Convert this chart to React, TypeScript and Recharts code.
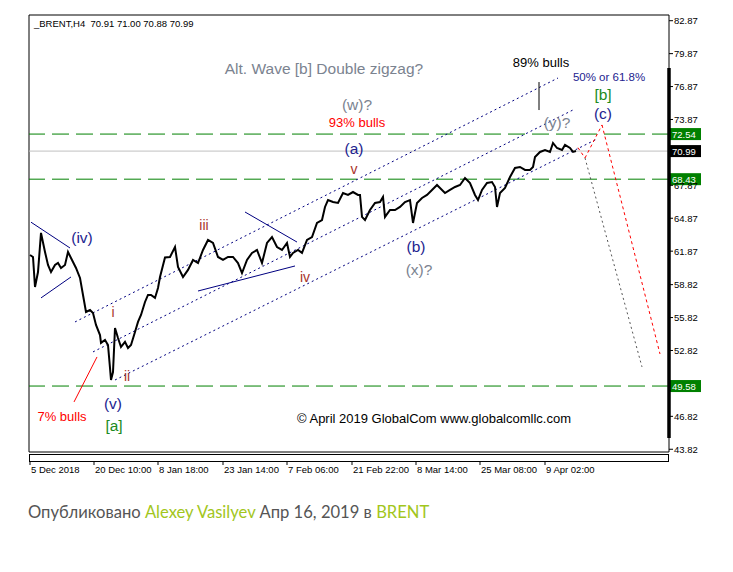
import {
  ComposedChart,
  Line,
  XAxis,
  YAxis,
  ReferenceLine,
  ReferenceDot,
  ReferenceArea,
} from "recharts";

const FONT = '"Liberation Sans", Arial, sans-serif';

// H4 bar number (from 5 Dec 2018) and the close
const bars = [
  1, 4, 6, 9, 12, 16, 19, 22, 26, 29, 32, 36, 39, 42, 47, 51, 54, 57, 61, 64,
  67, 71, 72, 76, 79, 81, 82, 84, 86, 89, 92, 96, 99, 102, 106, 109, 112, 116,
  119, 122, 126, 129, 131, 136, 141, 146, 149, 154, 159, 164, 169, 174, 179,
  184, 189, 194, 199, 204, 209, 213, 218, 223, 228, 233, 238, 243, 248, 253,
  258, 261, 264, 269, 273, 278, 283, 288, 293, 296, 299, 304, 309, 314, 319,
  324, 329, 331, 333, 336, 341, 346, 351, 354, 356, 361, 366, 371, 376, 381,
  384, 388, 393, 398, 403, 408, 411, 416, 421, 426, 431, 436, 441, 446, 449,
  453, 458, 463, 466, 468, 471, 476, 481, 486, 491, 496, 501, 504, 506, 511,
  516, 521, 524, 528, 533, 536, 541, 544, 547,
];
const closes = [
  61.52, 61.34, 58.61, 59.97, 63.53, 61.8, 60.61, 59.97, 60.61, 60.79, 60.34,
  60.61, 61.8, 61.25, 60.34, 59.43, 57.88, 56.33, 56.51, 56.24, 55.15, 54.23,
  53.51, 53.78, 53.32, 51.23, 50.13, 50.86, 54.87, 53.96, 53.14, 53.6, 53.05,
  53.32, 54.51, 55.42, 56.06, 57.24, 57.88, 57.88, 57.61, 58.52, 59.52, 61.3,
  61.34, 62.25, 60.43, 59.52, 60.16, 61.07, 60.79, 61.98, 62.89, 62.62, 61.34,
  61.07, 61.34, 61.34, 60.79, 59.88, 61.07, 61.71, 61.98, 60.79, 62.62, 63.16,
  62.25, 61.98, 62.62, 61.34, 61.71, 61.98, 61.71, 62.89, 63.16, 64.44, 64.71,
  65.9, 66.53, 66.35, 66.26, 67.17, 66.99, 67.26, 66.99, 66.99, 64.99, 64.71,
  65.62, 66.26, 66.35, 66.81, 64.99, 65.62, 65.62, 65.9, 66.35, 66.53, 64.44,
  66.26, 66.72, 66.99, 67.45, 67.9, 67.63, 67.17, 67.45, 67.72, 67.9, 68.54,
  68.08, 66.99, 66.53, 67.45, 68.08, 68.17, 67.72, 65.9, 67.17, 67.63, 68.63,
  69.45, 69.54, 69.27, 69.27, 69.54, 70.45, 70.91, 71.09, 70.91, 71.73, 71.27,
  71.09, 71.55, 71.27, 70.91, 70.99,
];

const priceTicks = [
  82.87, 79.87, 76.87, 73.87, 67.87, 64.87, 61.87, 58.82, 55.82, 52.82, 46.82,
  43.82,
];
const dateBars = [1, 65, 129, 194, 258, 323, 387, 451, 516];
const dateLabels = [
  "5 Dec 2018",
  "20 Dec 10:00",
  "8 Jan 18:00",
  "23 Jan 14:00",
  "7 Feb 06:00",
  "21 Feb 22:00",
  "8 Mar 14:00",
  "25 Mar 08:00",
  "9 Apr 02:00",
];

const greenLevels = [72.54, 68.43, 49.58];
const lastPrice = 70.99;

// wave channels and triangles [bar, price]
const channels = [
  [[46, 55.42], [529, 77.65]],
  [[64, 52.69], [546, 74.83]],
  [[86, 50.13], [568, 72.09]],
];
const triangles = [
  [[2, 64.51], [41, 62.16]],
  [[12, 57.61], [42, 59.52]],
  [[216, 65.44], [268, 62.7]],
  [[169, 58.24], [266, 60.52]],
];
const redPath = [[549, 71.3], [556, 70.36], [573, 73.37], [631, 52.5]];
const grayPath = [[556, 70.36], [613, 51.32]];
const pointer7 = [[45, 48.13], [68, 52.23]];
const pointer89 = [[510, 77.28], [510, 74.73]];

const NAVY = "#23238f";
const WAVE = "#a8322a";
const GREY = "#7b8390";
const GREEN = "#208a20";

const notes = [
  { t: "Alt. Wave [b] Double zigzag?", x: 295, y: 78.56, c: GREY, s: 15.5 },
  { t: "(w)?", x: 328, y: 75.19, c: GREY, s: 15.5 },
  { t: "93% bulls", x: 328, y: 73.64, c: "#ff0000", s: 13 },
  { t: "(a)", x: 325, y: 71.27, c: NAVY, s: 15.5 },
  { t: "v", x: 325, y: 69.36, c: WAVE, s: 14 },
  { t: "iii", x: 175, y: 64.26, c: WAVE, s: 14 },
  { t: "iv", x: 276, y: 59.52, c: WAVE, s: 14 },
  { t: "i", x: 84, y: 56.33, c: WAVE, s: 14 },
  { t: "ii", x: 98, y: 50.54, c: WAVE, s: 14 },
  { t: "(iv)", x: 53, y: 63.16, c: NAVY, s: 15.5 },
  { t: "(v)", x: 84, y: 47.95, c: NAVY, s: 15.5 },
  { t: "[a]", x: 85, y: 46.03, c: GREEN, s: 15.5 },
  { t: "7% bulls", x: 33, y: 46.76, c: "#ff0000", s: 13 },
  { t: "(b)", x: 387, y: 62.25, c: NAVY, s: 15.5 },
  { t: "(x)?", x: 390, y: 60.16, c: GREY, s: 15.5 },
  { t: "(y)?", x: 528, y: 73.55, c: GREY, s: 15.5 },
  { t: "89% bulls", x: 512, y: 79.02, c: "#000", s: 13 },
  { t: "50% or 61.8%", x: 580, y: 77.74, c: NAVY, s: 11.5 },
  { t: "[b]", x: 574, y: 76.19, c: GREEN, s: 15.5 },
  { t: "(c)", x: 574, y: 74.46, c: NAVY, s: 15.5 },
  { t: "© April 2019 GlobalCom www.globalcomllc.com", x: 405, y: 46.58, c: "#000", s: 13 },
];

const priceData = bars.map((bar, i) => ({ bar, close: closes[i] }));

const seg = (p: number[][]) =>
  p.slice(1).map((q, i) => [
    { x: p[i][0], y: p[i][1] },
    { x: q[0], y: q[1] },
  ]);

const DateTick = (props: any) => {
  const { x, y, payload } = props;
  const label = dateLabels[dateBars.indexOf(payload.value)];
  return (
    <g>
      <line x1={x} x2={x} y1={y + 10} y2={y + 13} stroke="#000" />
      <text x={x + 1} y={y + 17} dominantBaseline="central" fontSize={9.5} fontFamily={FONT} fill="#000">
        {label}
      </text>
    </g>
  );
};

const PriceTag = (props: any) => {
  const { viewBox, bg, txt } = props;
  const x = viewBox.x + viewBox.width;
  const y = viewBox.y;
  return (
    <g>
      <rect x={x} y={y - 6} width={32} height={12} fill={bg} />
      <text x={x + 3} y={y} dominantBaseline="central" fontSize={9.5} fontFamily={FONT} fill="#fff">
        {txt}
      </text>
    </g>
  );
};

const NoteLabel = (props: any) => {
  const { viewBox, txt, color, size } = props;
  return (
    <text
      x={viewBox.x + viewBox.width / 2}
      y={viewBox.y + viewBox.height / 2}
      textAnchor="middle"
      dominantBaseline="central"
      fontSize={size}
      fontFamily={FONT}
      fill={color}
    >
      {txt}
    </text>
  );
};

export default function App() {
  return (
    <div style={{ position: "absolute", left: 0, top: 0, width: 733, height: 572, background: "#fff" }}>
      <ComposedChart
        width={733}
        height={480}
        data={priceData}
        margin={{ top: 15, right: 0, bottom: 0, left: 29 }}
      >
        <XAxis
          type="number"
          dataKey="bar"
          domain={[0, 640]}
          ticks={dateBars}
          interval={0}
          height={28}
          tickSize={0}
          tickMargin={0}
          axisLine={false}
          tickLine={false}
          tick={<DateTick />}
          allowDataOverflow
        />
        <YAxis
          orientation="right"
          domain={[43.57, 83.39]}
          ticks={priceTicks}
          interval={0}
          width={64}
          tickSize={4}
          tickMargin={1}
          axisLine={false}
          tickLine={{ stroke: "#000" }}
          tick={{ fontSize: 9.5, fill: "#000", fontFamily: FONT }}
          tickFormatter={(v: number) => v.toFixed(2)}
          allowDataOverflow
        />
        <ReferenceArea x1={0} x2={640} y1={43.57} y2={83.39} fill="none" stroke="#000" />
        <ReferenceLine y={lastPrice} stroke="#c0c0c0" label={<PriceTag bg="#000" txt={lastPrice.toFixed(2)} />} />
        {greenLevels.map((v) => (
          <ReferenceLine
            key={v}
            y={v}
            stroke="#008000"
            strokeDasharray="17 7"
            label={<PriceTag bg="#008000" txt={v.toFixed(2)} />}
          />
        ))}
        {channels.flatMap(seg).map((s, i) => (
          <ReferenceLine key={"c" + i} segment={s} stroke="#000080" strokeDasharray="2 3" />
        ))}
        {triangles.flatMap(seg).map((s, i) => (
          <ReferenceLine key={"t" + i} segment={s} stroke="#000080" />
        ))}
        {seg(redPath).map((s, i) => (
          <ReferenceLine key={"r" + i} segment={s} stroke="#ff0000" strokeDasharray="3 3" />
        ))}
        {seg(grayPath).map((s, i) => (
          <ReferenceLine key={"g" + i} segment={s} stroke="#555" strokeDasharray="2 3" />
        ))}
        {seg(pointer7).map((s, i) => (
          <ReferenceLine key={"p7" + i} segment={s} stroke="#ff0000" />
        ))}
        {seg(pointer89).map((s, i) => (
          <ReferenceLine key={"p89" + i} segment={s} stroke="#000" />
        ))}
        <ReferenceLine
          segment={[
            { x: 640, y: 78.56 },
            { x: 640, y: 44.85 },
          ]}
          stroke="#000"
          strokeWidth={3.5}
        />
        <Line
          dataKey="close"
          stroke="#000"
          strokeWidth={2}
          dot={false}
          isAnimationActive={false}
          strokeLinejoin="miter"
        />
        {notes.map((n, i) => (
          <ReferenceDot
            key={"n" + i}
            x={n.x}
            y={n.y}
            r={1}
            fill="none"
            stroke="none"
            label={<NoteLabel txt={n.t} color={n.c} size={n.s} />}
          />
        ))}
      </ComposedChart>
      <div
        style={{
          position: "absolute",
          left: 29,
          top: 454,
          width: 640,
          height: 8,
          border: "1px solid #000",
          boxSizing: "border-box",
        }}
      />
      <div
        style={{
          position: "absolute",
          left: 34,
          top: 19,
          fontSize: 9.5,
          lineHeight: "10px",
          fontFamily: FONT,
          whiteSpace: "pre",
          color: "#000",
        }}
      >
        {"_BRENT,H4  70.91 71.00 70.88 70.99"}
      </div>
      <div
        style={{
          position: "absolute",
          left: 28,
          top: 502,
          fontSize: 16.6,
          lineHeight: "20px",
          fontFamily: "Lato, sans-serif",
          color: "#555",
          whiteSpace: "pre",
        }}
      >
        Опубликовано <span style={{ color: "#a2c61c" }}>Alexey Vasilyev</span> Апр 16, 2019 в{" "}
        <span style={{ color: "#a2c61c" }}>BRENT</span>
      </div>
    </div>
  );
}
